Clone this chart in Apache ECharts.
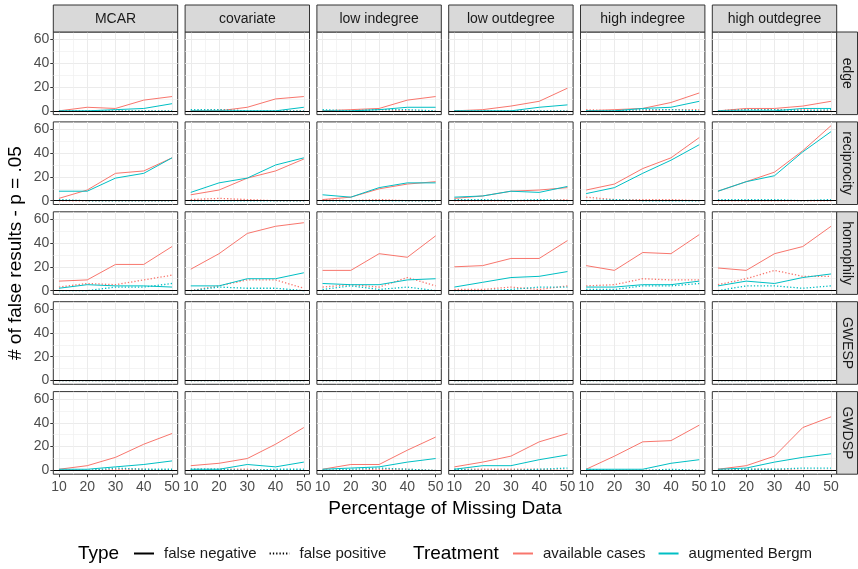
<!DOCTYPE html>
<html><head><meta charset="utf-8">
<script src="https://cdn.jsdelivr.net/npm/echarts@6/dist/echarts.min.js"></script>
<style>html,body{margin:0;padding:0;background:#fff}#c{width:858px;height:569px}</style>
</head><body><div id="c"></div>
<script>
// ---- data ----
const pctMissing = [10, 20, 30, 40, 50];
const missingTypes = ['MCAR', 'covariate', 'low indegree', 'low outdegree', 'high indegree', 'high outdegree'];
const terms = ['edge', 'reciprocity', 'homophily', 'GWESP', 'GWDSP'];
const yTickLabels = [0, 20, 40, 60];
const xTickLabels = [10, 20, 30, 40, 50];
const legendTypes = ['false negative', 'false positive'];
const legendTreatments = ['available cases', 'augmented Bergm'];

// each array: one list per missing-data type (column), values for 10..50 %
const edge_availFN = [[0,3,2,9,12],[0,0,3,10,12],[0,1,2,9,12],[0,1,4,8,19],[0,1,2,7,15],[0,2,2,4,8]];
const edge_availFP = [[0,0,0,0,0],[0,1,0,0,0],[0,0,1,0,0],[0,0,0,0,0],[1,0,0,1,1],[0,1,1,1,0]];
const edge_augFN   = [[0,0,1,2,6],[0,0,0,0,3],[0,0,1,3,3],[0,0,0,3,5],[0,0,2,3,8],[0,0,0,2,2]];
const edge_augFP   = [[0,0,0,0,0],[1,1,0,0,0],[1,0,1,1,0],[0,0,0,0,0],[0,0,1,1,0],[0,1,1,0,1]];

const recip_availFN = [[2,9,23,25,36],[5,9,19,25,35],[1,3,10,14,16],[2,4,8,9,11],[9,14,27,36,53],[8,16,24,42,63]];
const recip_availFP = [[0,0,0,0,0],[1,2,1,0,0],[1,0,1,0,0],[0,0,0,0,1],[3,1,1,1,0],[0,0,0,0,0]];
const recip_augFN   = [[8,8,19,23,36],[7,15,19,30,36],[5,3,11,15,15],[3,4,8,7,12],[6,11,23,34,47],[8,16,21,41,58]];
const recip_augFP   = [[1,0,0,0,0],[0,0,0,0,0],[0,0,0,0,0],[1,1,0,1,0],[0,1,0,0,0],[1,1,1,0,1]];

const homo_availFN = [[8,9,22,22,37],[18,31,48,54,57],[17,17,31,28,46],[20,21,27,27,42],[21,17,32,31,47],[19,17,31,37,54]];
const homo_availFP = [[3,6,5,9,13],[0,4,9,9,2],[3,5,3,11,4],[1,1,3,1,4],[4,5,10,9,9],[5,10,17,12,12]];
const homo_augFN   = [[2,5,4,4,3],[4,4,10,10,15],[6,5,5,9,10],[3,7,11,12,16],[3,3,5,5,8],[4,8,6,11,14]];
const homo_augFP   = [[0,0,3,3,6],[0,3,2,2,0],[1,4,1,3,0],[0,0,1,3,3],[1,1,4,4,6],[0,4,4,2,4]];

const gwesp_availFN = [[0,0,0,0,0],[0,0,0,0,0],[0,0,0,0,0],[0,0,0,0,0],[0,0,0,0,0],[0,0,0,0,0]];
const gwesp_availFP = [[0,0,0,0,0],[0,0,0,0,0],[0,0,0,0,0],[0,0,0,0,0],[0,0,0,0,0],[0,0,0,0,0]];
const gwesp_augFN   = [[0,0,0,0,0],[0,0,0,0,0],[0,0,0,0,0],[0,0,0,0,0],[0,0,0,0,0],[0,0,0,0,0]];
const gwesp_augFP   = [[0,0,0,0,0],[0,0,0,0,0],[0,0,0,0,0],[0,0,0,0,0],[0,0,0,0,0],[0,0,0,0,0]];

const gwdsp_availFN = [[1,4,11,22,31],[4,6,10,22,36],[1,5,5,17,28],[3,7,12,24,31],[1,12,24,25,38],[1,4,12,36,45]];
const gwdsp_availFP = [[0,0,1,1,0],[1,1,1,0,0],[0,0,1,1,0],[1,1,1,1,0],[0,0,0,0,0],[1,1,1,0,0]];
const gwdsp_augFN   = [[1,1,3,5,8],[1,1,5,3,7],[1,2,3,7,10],[1,4,4,9,13],[1,1,1,6,9],[1,2,7,11,14]];
const gwdsp_augFP   = [[0,0,2,1,1],[1,1,0,1,1],[0,1,2,1,0],[1,0,0,1,2],[1,0,0,1,0],[0,1,1,2,2]];

const termData = {
  edge:        [edge_availFN, edge_availFP, edge_augFN, edge_augFP],
  reciprocity: [recip_availFN, recip_availFP, recip_augFN, recip_augFP],
  homophily:   [homo_availFN, homo_availFP, homo_augFN, homo_augFP],
  GWESP:       [gwesp_availFN, gwesp_availFP, gwesp_augFN, gwesp_augFP],
  GWDSP:       [gwdsp_availFN, gwdsp_availFP, gwdsp_augFN, gwdsp_augFP]
};

// ---- style / layout ----
const FONT = '"Liberation Sans", Arial, sans-serif';
const RED = '#F8766D', TEAL = '#00BFC4';
const DOT = [1.3, 2];
const lineSpecs = [
  {color: RED, type: 'solid', width: 1},
  {color: RED, type: DOT, width: 1.3},
  {color: TEAL, type: 'solid', width: 1},
  {color: TEAL, type: DOT, width: 1.3}
];
const L0 = 53.3, PX = 131.8, W = 124.4, T0 = 32, PY = 89.9, H = 82.6;
const allVals = Object.values(termData).flat(3);
const yMaxData = Math.max(...allVals);
const yPad = 0.05 * yMaxData;

const grids = [], xAxes = [], yAxes = [], series = [], graphics = [];

terms.forEach((term, r) => {
  missingTypes.forEach((mt, c) => {
    const gi = r * 6 + c;
    grids.push({left: L0 + c * PX, top: T0 + r * PY, width: W, height: H, show: true,
      backgroundColor: '#fff', borderColor: '#333333', borderWidth: 1});
    xAxes.push({type: 'value', gridIndex: gi, min: 8, max: 52, splitNumber: 4,
      axisLine: {show: false, onZero: false},
      axisTick: {show: r === 4, length: 3, lineStyle: {color: '#333333', width: 1}, customValues: xTickLabels},
      axisLabel: {show: r === 4, customValues: xTickLabels, margin: 6, color: '#4D4D4D', fontSize: 14, fontFamily: FONT,
        formatter: v => (Math.abs(v % 10) < 1e-9 ? String(v) : '')},
      splitLine: {show: true, lineStyle: {color: '#EBEBEB', width: 1}},
      minorTick: {show: false, splitNumber: 2},
      minorSplitLine: {show: true, lineStyle: {color: '#EFEFEF', width: 0.7}}
    });
    yAxes.push({type: 'value', gridIndex: gi, min: -yPad, max: yMaxData + yPad, splitNumber: 3,
      axisLine: {show: false, onZero: false},
      axisTick: {show: c === 0, length: 3, lineStyle: {color: '#333333', width: 1}, customValues: yTickLabels},
      axisLabel: {show: c === 0, customValues: yTickLabels, margin: 4, color: '#4D4D4D', fontSize: 14, fontFamily: FONT,
        formatter: v => (Math.abs(v % 20) < 1e-9 ? String(Math.round(v)) : '')},
      splitLine: {show: true, lineStyle: {color: '#EBEBEB', width: 1}},
      minorTick: {show: false, splitNumber: 2},
      minorSplitLine: {show: true, lineStyle: {color: '#EFEFEF', width: 0.7}}
    });
    termData[term].forEach((arr, k) => {
      const spec = lineSpecs[k];
      const s = {
        type: 'line', name: term + '-' + mt + '-' + k, xAxisIndex: gi, yAxisIndex: gi,
        data: pctMissing.map((x, i) => [x, arr[c][i]]),
        symbol: 'none', silent: true, z: 2 + k * 0.1,
        lineStyle: {color: spec.color, width: spec.width, type: spec.type}
      };
      if (k === 3) {
        s.z = 3;
        s.markLine = {silent: true, symbol: ['none', 'none'], label: {show: false},
          lineStyle: {color: '#000', width: 1, type: 'solid'}, emphasis: {disabled: true},
          data: [{yAxis: 0}]};
      }
      series.push(s);
    });
  });
});

// legend dummy series (no data)
const legendStyles = [
  {name: legendTypes[0], color: '#000', type: 'solid', width: 1},
  {name: legendTypes[1], color: '#000', type: DOT, width: 1.3},
  {name: legendTreatments[0], color: RED, type: 'solid', width: 1},
  {name: legendTreatments[1], color: TEAL, type: 'solid', width: 1}
];
legendStyles.forEach(l => series.push({type: 'line', name: l.name, data: [], xAxisIndex: 0, yAxisIndex: 0,
  symbol: 'none', itemStyle: {color: l.color}, lineStyle: {color: l.color, width: l.width, type: l.type}}));

// strips
missingTypes.forEach((mt, c) => {
  const x = L0 + c * PX;
  graphics.push({type: 'rect', shape: {x: x, y: 5, width: W, height: T0 - 5},
    style: {fill: '#D9D9D9', stroke: '#333333', lineWidth: 1}, z: 10});
  graphics.push({type: 'text', x: x + W / 2, y: (5 + T0) / 2 + 0.5,
    style: {text: mt, fill: '#1A1A1A', font: '14px ' + FONT, align: 'center', verticalAlign: 'middle'}, z: 11});
});
terms.forEach((term, r) => {
  const y = T0 + r * PY;
  const x = L0 + 5 * PX + W;
  graphics.push({type: 'rect', shape: {x: x, y: y, width: 857.5 - x, height: H},
    style: {fill: '#D9D9D9', stroke: '#333333', lineWidth: 1}, z: 10});
  graphics.push({type: 'text', x: (x + 857.5) / 2, y: y + H / 2, rotation: -Math.PI / 2,
    style: {text: term, fill: '#1A1A1A', font: '14px ' + FONT, align: 'center', verticalAlign: 'middle'}, z: 11});
});
// axis titles
graphics.push({type: 'text', x: (L0 + L0 + 5 * PX + W) / 2, y: 509,
  style: {text: 'Percentage of Missing Data', fill: '#000', font: '19px ' + FONT, align: 'center', verticalAlign: 'middle'}});
graphics.push({type: 'text', x: 16, y: T0 + (4 * PY + H) / 2, rotation: Math.PI / 2,
  style: {text: '# of false results - p = .05', fill: '#000', font: '19px ' + FONT, align: 'center', verticalAlign: 'middle'}});
// legend titles
graphics.push({type: 'text', x: 78, y: 554,
  style: {text: 'Type', fill: '#000', font: '19px ' + FONT, align: 'left', verticalAlign: 'middle'}});
graphics.push({type: 'text', x: 413, y: 554,
  style: {text: 'Treatment', fill: '#000', font: '19px ' + FONT, align: 'left', verticalAlign: 'middle'}});

const legendCommon = {orient: 'horizontal', top: 546, padding: 0, itemWidth: 20, itemHeight: 14, itemGap: 12,
  selectedMode: false, itemStyle: {opacity: 0, borderWidth: 0},
  textStyle: {fontSize: 15, fontFamily: FONT, color: '#1A1A1A', padding: [0, 0, 0, 5]}};

const chart = echarts.init(document.getElementById('c'), null, {renderer: 'canvas'});
chart.setOption({
  animation: false,
  backgroundColor: '#fff',
  grid: grids, xAxis: xAxes, yAxis: yAxes, series: series,
  legend: [
    Object.assign({}, legendCommon, {left: 133, data: legendTypes}),
    Object.assign({}, legendCommon, {left: 512, data: legendTreatments})
  ],
  graphic: graphics
});
</script></body></html>
